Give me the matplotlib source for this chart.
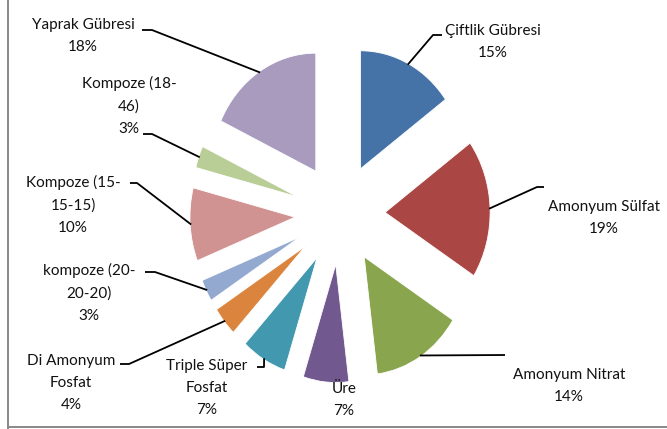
import numpy as np
import matplotlib
matplotlib.use("Agg")
import matplotlib.pyplot as plt

# gübre türleri ve kullanım payları (%)
kategoriler = ["Çiftlik Gübresi", "Amonyum Sülfat", "Amonyum Nitrat", "Üre",
               "Triple Süper Fosfat", "Di Amonyum Fosfat", "kompoze (20-20-20)",
               "Kompoze (15-15-15)", "Kompoze (18-46)", "Yaprak Gübresi"]
oranlar = [15, 19, 14, 7, 7, 4, 3, 10, 3, 18]
etiket_adlari = ["Çiftlik Gübresi", "Amonyum Sülfat", "Amonyum Nitrat", "Üre",
                 "Triple Süper\nFosfat", "Di Amonyum\nFosfat", "kompoze (20-\n20-20)",
                 "Kompoze (15-\n15-15)", "Kompoze (18-\n46)", "Yaprak Gübresi"]
renkler = ["#4572A7", "#AA4643", "#89A54E", "#71588F", "#4198AF",
           "#DB843D", "#93A9CF", "#D19392", "#B9CD96", "#A99BBD"]

# etiket yerleri (piksel): metin merkezi, kırılma noktası, kısa yatay uç
etiket_yer = [(493, 42), (604, 218), (569, 386), (344, 400), (207, 388),
              (71, 383), (89, 293), (73, 205), (129, 106), (83, 36)]
kilavuz = [(433, 35, 442), (537, 187, 544), (505, 355, 505), None, (264, 367, 257),
           (129, 364, 120), (155, 272, 145), (137, 183, 130), (152, 134, 143), (152, 30, 142)]

W, H = 667, 429
cx, cy = 340, 214       # pasta merkezi (piksel)
sx, sy = 105, 118       # birim yarıçap başına piksel
patlama = 0.43

fig = plt.figure(figsize=(W / 100, H / 100), dpi=100)
ax = fig.add_axes([0, 0, 1, 1])

wedges, _ = ax.pie(oranlar, colors=renkler, startangle=90, counterclock=False,
                   explode=[patlama] * len(oranlar), radius=1,
                   wedgeprops=dict(linewidth=0.6, edgecolor="white"))
ax.set_aspect("auto")
ax.set_xlim(-cx / sx, (W - cx) / sx)
ax.set_ylim(-(H - cy) / sy, cy / sy)
ax.axis("off")


def px(x, y):
    return (x - cx) / sx, (cy - y) / sy


toplam = sum(oranlar)
for i, w in enumerate(wedges):
    tx, ty = px(*etiket_yer[i])
    yuzde = round(100 * oranlar[i] / toplam)
    ax.text(tx, ty, f"{etiket_adlari[i]}\n{yuzde}%", ha="center", va="center",
            multialignment="center", fontsize=11, family=["Lato", "DejaVu Sans"],
            color="#111111", linespacing=1.72)
    if kilavuz[i] is None:
        continue
    # dilimin yay ortasından kılavuz çizgisi
    th = np.deg2rad((w.theta1 + w.theta2) / 2)
    ox, oy = w.center
    ux = ox + 0.99 * np.cos(th)
    uy = oy + 0.99 * np.sin(th)
    ex, ey, sx_ = kilavuz[i]
    kx, ky = px(ex, ey)
    kx2, _ = px(sx_, ey)
    ax.plot([ux, kx, kx2], [uy, ky, ky], color="black", lw=1.3,
            solid_capstyle="butt")

# grafik alanı çerçevesi (sol ve alt kenar)
fig.add_artist(plt.Line2D([8 / W, 8 / W], [0, 1], color="#888888", lw=1.4))
fig.add_artist(plt.Line2D([8 / W, 1], [2 / H, 2 / H], color="#888888", lw=1.4))

fig.savefig("out.png", dpi=100)
